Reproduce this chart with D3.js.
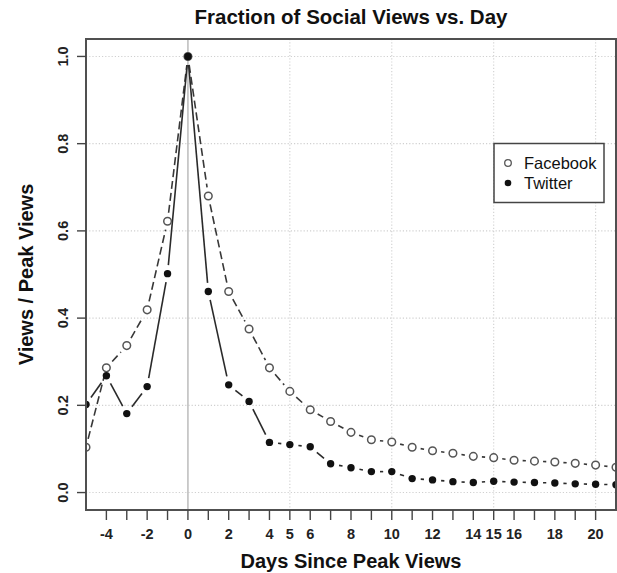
<!DOCTYPE html>
<html><head><meta charset="utf-8">
<script src="https://cdn.jsdelivr.net/npm/d3@7"></script>
<style>body{margin:0;background:#fff}</style>
</head><body>
<svg id="c" width="617" height="573"></svg>
<script>
const days = [-5,-4,-3,-2,-1,0,1,2,3,4,5,6,7,8,9,10,11,12,13,14,15,16,17,18,19,20,21];
const facebook = [0.104,0.286,0.337,0.419,0.622,1.0,0.680,0.461,0.375,0.286,0.232,0.190,0.163,0.138,0.121,0.116,0.104,0.096,0.090,0.083,0.080,0.074,0.072,0.070,0.067,0.063,0.058];
const twitter = [0.202,0.268,0.181,0.243,0.502,1.0,0.461,0.247,0.209,0.115,0.110,0.105,0.066,0.057,0.048,0.048,0.032,0.029,0.025,0.023,0.026,0.024,0.023,0.022,0.020,0.019,0.018];
const xTickLabels = [-4,-2,0,2,4,5,6,8,10,12,14,15,16,18,20];
const xTickMarks = d3.range(-4,21);
const yTicks = [0,0.2,0.4,0.6,0.8,1.0];
const xGrid = [5,10,15,20];
const seriesNames = ["Facebook","Twitter"];

const svg = d3.select("#c");
const L=86,R=616,T=39,B=510;
const x = d3.scaleLinear().domain([-5,21]).range([L,R]);
const y = d3.scaleLinear().domain([-0.04,1.04]).range([B,T]);
const font = "'Liberation Sans', Arial, Helvetica, sans-serif";

svg.append("defs").append("clipPath").attr("id","clip")
  .append("rect").attr("x",L).attr("y",T).attr("width",R-L).attr("height",B-T);

// grid
const g = svg.append("g");
g.selectAll(".hg").data(yTicks).join("line")
  .attr("x1",L).attr("x2",R).attr("y1",d=>y(d)).attr("y2",d=>y(d))
  .attr("stroke","#d0d0d0").attr("stroke-width",1.1).attr("stroke-dasharray","1.2,2");
g.selectAll(".vg").data(xGrid).join("line")
  .attr("x1",d=>x(d)).attr("x2",d=>x(d)).attr("y1",T).attr("y2",B)
  .attr("stroke","#d0d0d0").attr("stroke-width",1.1).attr("stroke-dasharray","1.2,2");
g.append("line").attr("x1",x(0)).attr("x2",x(0)).attr("y1",T).attr("y2",B)
  .attr("stroke","#c0c0c0").attr("stroke-width",1.6);

// lines with gaps (type="b")
const gap = 8.6;
function segs(vals){
  const out=[];
  for(let i=0;i<vals.length-1;i++){
    const x1=x(days[i]),y1=y(vals[i]),x2=x(days[i+1]),y2=y(vals[i+1]);
    const dx=x2-x1,dy=y2-y1,len=Math.hypot(dx,dy);
    if(len>2*gap){
      const ux=dx/len,uy=dy/len;
      out.push([x1+ux*gap,y1+uy*gap,x2-ux*gap,y2-uy*gap]);
    }
  }
  return out;
}
const pl = svg.append("g").attr("clip-path","url(#clip)");
pl.selectAll(".fl").data(segs(facebook)).join("line")
  .attr("x1",d=>d[0]).attr("y1",d=>d[1]).attr("x2",d=>d[2]).attr("y2",d=>d[3])
  .attr("stroke","#383838").attr("stroke-width",1.6).attr("stroke-dasharray","8,4");
pl.selectAll(".tl").data(segs(twitter)).join("line")
  .attr("x1",d=>d[0]).attr("y1",d=>d[1]).attr("x2",d=>d[2]).attr("y2",d=>d[3])
  .attr("stroke","#2a2a2a").attr("stroke-width",1.6);

pl.selectAll(".fp").data(facebook).join("circle")
  .attr("cx",(d,i)=>x(days[i])).attr("cy",d=>y(d)).attr("r",3.8)
  .attr("fill","#fff").attr("stroke","#555").attr("stroke-width",1.5);
pl.selectAll(".tp").data(twitter).join("circle")
  .attr("cx",(d,i)=>x(days[i])).attr("cy",d=>y(d)).attr("r",3.7)
  .attr("fill","#111");

// box
svg.append("rect").attr("x",L).attr("y",T).attr("width",R-L).attr("height",B-T)
  .attr("fill","none").attr("stroke","#505050").attr("stroke-width",2);

// x axis ticks
svg.selectAll(".xt").data(xTickMarks).join("line")
  .attr("x1",d=>x(d)).attr("x2",d=>x(d)).attr("y1",B).attr("y2",B+10)
  .attr("stroke","#444").attr("stroke-width",1.4);
svg.selectAll(".xl").data(xTickLabels).join("text")
  .attr("x",d=>x(d)).attr("y",539).attr("text-anchor","middle")
  .attr("font-family",font).attr("font-weight","bold").attr("font-size",14.5)
  .attr("fill","#222").text(d=>d);

// y axis
svg.selectAll(".yt").data(yTicks).join("line")
  .attr("x1",L-9).attr("x2",L).attr("y1",d=>y(d)).attr("y2",d=>y(d))
  .attr("stroke","#444").attr("stroke-width",1.4);
svg.selectAll(".yl").data(yTicks).join("text")
  .attr("transform",d=>`translate(68,${y(d)}) rotate(-90)`)
  .attr("text-anchor","middle")
  .attr("font-family",font).attr("font-weight","bold").attr("font-size",14.5)
  .attr("fill","#222").text(d=>d.toFixed(1));

// titles
svg.append("text").attr("x",(L+R)/2).attr("y",24).attr("text-anchor","middle")
  .attr("font-family",font).attr("font-weight","bold").attr("font-size",20.5)
  .attr("fill","#111").text("Fraction of Social Views vs. Day");
svg.append("text").attr("x",(L+R)/2).attr("y",568).attr("text-anchor","middle")
  .attr("font-family",font).attr("font-weight","bold").attr("font-size",20)
  .attr("fill","#111").text("Days Since Peak Views");
svg.append("text").attr("transform",`translate(33,${(T+B)/2}) rotate(-90)`)
  .attr("text-anchor","middle")
  .attr("font-family",font).attr("font-weight","bold").attr("font-size",20)
  .attr("fill","#111").text("Views / Peak Views");

// legend
const lg = svg.append("g");
lg.append("rect").attr("x",494).attr("y",143.5).attr("width",110).attr("height",59)
  .attr("fill","#fff").attr("stroke","#444").attr("stroke-width",1.5);
const ly = [163,183];
lg.append("circle").attr("cx",508).attr("cy",ly[0]).attr("r",3.3)
  .attr("fill","#fff").attr("stroke","#555").attr("stroke-width",1.3);
lg.append("circle").attr("cx",508).attr("cy",ly[1]).attr("r",3.3).attr("fill","#111");
lg.selectAll(".lt").data(seriesNames).join("text")
  .attr("x",524).attr("y",(d,i)=>ly[i]+6).attr("font-family",font)
  .attr("font-size",16.5).attr("fill","#111").text(d=>d);
</script>
</body></html>
